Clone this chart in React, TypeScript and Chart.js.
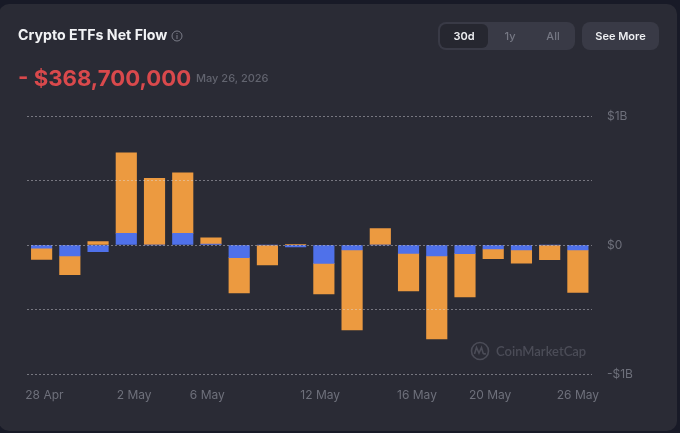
import React, { useEffect, useRef } from "react";
import { Chart, registerables } from "chart.js";

Chart.register(...registerables);

const categories = ["28 Apr","29 Apr","30 Apr","1 May","4 May","5 May","6 May","7 May","8 May","11 May","12 May","13 May","14 May","15 May","18 May","19 May","20 May","21 May","22 May","26 May"];
const btcFlow = [-87,-145,26,625,517,470,48,-274,-155,5,-238,-620,127,-290,-643,-336,-75,-101,-114,-328];
const ethFlow = [-25,-85,-52,90,0,90,8,-98,0,-15,-142,-39,0,-65,-85,-67,-31,-39,0,-39];
const dateLabels = ["28 Apr","2 May","6 May","12 May","16 May","20 May","26 May"];
const dateLabelSlots = [0.1,3.28,5.87,9.87,13.3,15.89,19.0];

const FONT = "Inter, 'Noto Sans', sans-serif";
const MUTED = "#6e707b";

export default function App() {
  const ref = useRef<HTMLCanvasElement>(null);
  useEffect(() => {
    document.body.style.margin = "0";
    document.body.style.background = "#181a27";
    const chart = new Chart(ref.current!, {
      type: "bar",
      data: {
        labels: categories,
        datasets: [
          { label: "Blue", data: ethFlow, backgroundColor: "#4f71ea", stack: "s", barThickness: 20.5 },
          { label: "Orange", data: btcFlow, backgroundColor: "#ec9a40", stack: "s", barThickness: 20.5 },
        ],
      },
      options: {
        responsive: false,
        animation: false,
        layout: { padding: { left: 27.5, top: 116, right: 0, bottom: 0 } },
        plugins: { legend: { display: false }, tooltip: { enabled: false } },
        scales: {
          x: { stacked: true, display: false },
          xDates: {
            type: "linear",
            position: "bottom",
            offset: false,
            min: -0.5,
            max: 19.5,
            grid: { display: false },
            border: { display: false },
            afterBuildTicks: (s: any) => { s.ticks = dateLabelSlots.map((value) => ({ value })); },
            afterFit: (s: any) => { s.height = 59; },
            ticks: {
              autoSkip: false,
              maxRotation: 0,
              padding: 6,
              color: MUTED,
              font: { family: FONT, size: 12 },
              callback: (v: any) => dateLabels[dateLabelSlots.indexOf(Number(v))] ?? "",
            },
          },
          y: {
            stacked: true,
            position: "right",
            min: -1000,
            max: 1000,
            afterFit: (s: any) => { s.width = 88; },
            border: { display: false, dash: [1, 3], dashOffset: 0 },
            grid: { color: "rgba(225,225,230,0.85)", lineWidth: 1, z: 1, drawTicks: false },
            ticks: {
              stepSize: 500,
              padding: 15,
              color: MUTED,
              font: { family: FONT, size: 12 },
              callback: (v: any) => (v === 1000 ? "$1B" : v === 0 ? "$0" : v === -1000 ? "-$1B" : ""),
            },
          },
        },
      } as any,
    } as any);
    return () => chart.destroy();
  }, []);

  const abs = (o: React.CSSProperties): React.CSSProperties => ({ position: "absolute", fontFamily: FONT, whiteSpace: "nowrap", ...o });

  return (
    <div style={{ position: "relative", width: 680, height: 433, overflow: "hidden", background: "#181a27" }}>
      <div style={abs({ left: -1, top: 4, width: 678, height: 427, background: "#2a2b35", borderRadius: 10 })} />
      <canvas ref={ref} width={680} height={433} style={{ position: "absolute", left: 0, top: 0, display: "block" }} />
      <div style={abs({ left: 18, top: 26, fontSize: 14.2, lineHeight: "18px", fontWeight: 700, color: "#f2f3f5" })}>Crypto ETFs Net Flow</div>
      <svg style={{ position: "absolute", left: 171, top: 30 }} width="12" height="12" viewBox="0 0 12 12">
        <circle cx="6" cy="6" r="5" fill="none" stroke="#7b7d88" strokeWidth="1" />
        <rect x="5.5" y="5" width="1" height="4" fill="#7b7d88" />
        <rect x="5.5" y="3" width="1" height="1" fill="#7b7d88" />
      </svg>
      <div style={abs({ left: 18, top: 64, fontSize: 22.2, lineHeight: "28px", fontWeight: 700, color: "#d9494c" })}>- $368,700,000</div>
      <div style={abs({ left: 196, top: 71, fontSize: 11, lineHeight: "14px", fontWeight: 500, color: "#62646f" })}>May 26, 2026</div>
      <div style={abs({ left: 438, top: 22, width: 137, height: 28, background: "#393a46", borderRadius: 8 })} />
      <div style={abs({ left: 440, top: 24, width: 48, height: 24, lineHeight: "24px", textAlign: "center", background: "#262730", borderRadius: 6, fontSize: 11, fontWeight: 600, color: "#eeeff2" })}>30d</div>
      <div style={abs({ left: 490, top: 24, width: 40, height: 24, lineHeight: "24px", textAlign: "center", fontSize: 11, fontWeight: 500, color: "#767884" })}>1y</div>
      <div style={abs({ left: 533, top: 24, width: 40, height: 24, lineHeight: "24px", textAlign: "center", fontSize: 11, fontWeight: 500, color: "#767884" })}>All</div>
      <div style={abs({ left: 582, top: 22, width: 77, height: 28, lineHeight: "28px", textAlign: "center", background: "#393a46", borderRadius: 8, fontSize: 11, fontWeight: 600, color: "#eeeff2" })}>See More</div>
      <svg style={{ position: "absolute", left: 470, top: 341 }} width="20" height="20" viewBox="0 0 20 20">
        <circle cx="10" cy="10" r="8.5" fill="none" stroke="#4b4c57" strokeWidth="1.6" />
        <path d="M4.5 13 L6.5 6.5 L9 12 L11.5 6.5 L13 12 Q14 13.5 16 12.5" fill="none" stroke="#4b4c57" strokeWidth="1.6" />
      </svg>
      <div style={abs({ left: 496, top: 343, fontSize: 13, lineHeight: "17px", fontWeight: 600, color: "#4b4c57", fontFamily: "Lato, sans-serif" })}>CoinMarketCap</div>
    </div>
  );
}
